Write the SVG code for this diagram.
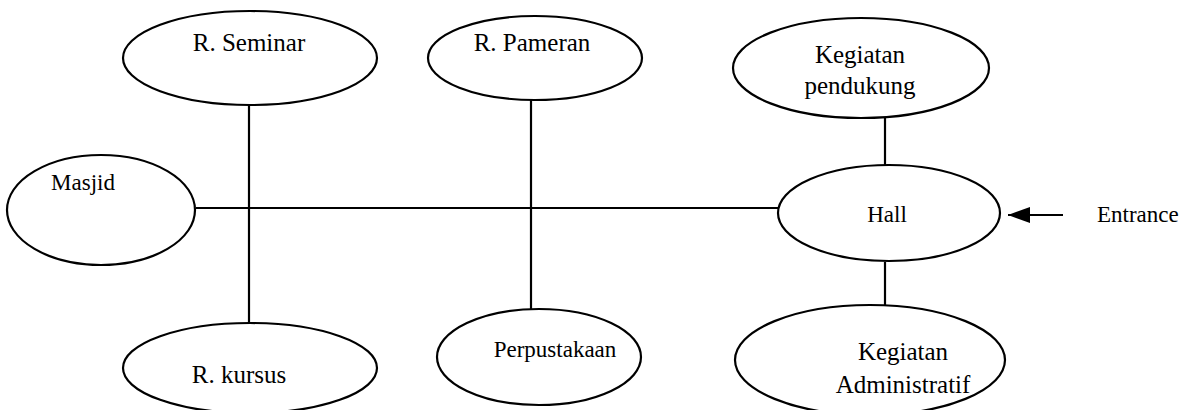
<svg xmlns="http://www.w3.org/2000/svg" width="1196" height="410" viewBox="0 0 1196 410">
<style>
.n ellipse{fill:#fff;stroke:#000;stroke-width:2.2}
text{font-family:"Liberation Serif","Times New Roman",serif;font-size:23px;fill:#000;text-anchor:middle}
.t{font-size:25px}
.b{font-size:25px}
.c line{stroke:#000;stroke-width:2.2}
</style>
<defs>
<marker id="ah" viewBox="0 0 22 16" refX="22" refY="8" markerWidth="22" markerHeight="16" orient="auto" markerUnits="userSpaceOnUse">
<path d="M0,0 L22,8 L0,16 z" fill="#000"/>
</marker>
</defs>
<rect width="1196" height="410" fill="#fff"/>
<g class="c" id="connectors">
<line x1="196" y1="208" x2="780" y2="208"/>
<line x1="249" y1="105" x2="249" y2="325"/>
<line x1="531" y1="100" x2="531" y2="310"/>
<line x1="885" y1="118" x2="885" y2="165"/>
<line x1="885" y1="262" x2="885" y2="305"/>
<line x1="1063" y1="215" x2="1008" y2="215" marker-end="url(#ah)"/>
</g>
<g class="n" id="seminar"><ellipse cx="250" cy="58" rx="127" ry="47"/><text class="t" x="249" y="51">R. Seminar</text></g>
<g class="n" id="pameran"><ellipse cx="535" cy="58" rx="107" ry="42"/><text class="t" x="532" y="51">R. Pameran</text></g>
<g class="n" id="pendukung"><ellipse cx="861" cy="68" rx="128" ry="50"/><text class="t" x="860" y="63">Kegiatan</text><text class="t" x="860" y="94">pendukung</text></g>
<g class="n" id="masjid"><ellipse cx="101" cy="210" rx="94" ry="55"/><text x="83" y="190">Masjid</text></g>
<g class="n" id="hall"><ellipse cx="889" cy="213" rx="111" ry="48"/><text x="887" y="222">Hall</text></g>
<g class="n" id="kursus"><ellipse cx="250" cy="368" rx="127" ry="45"/><text class="b" x="239" y="383">R. kursus</text></g>
<g class="n" id="perpustakaan"><ellipse cx="539" cy="357" rx="102" ry="48"/><text x="555" y="357">Perpustakaan</text></g>
<g class="n" id="administratif"><ellipse cx="870" cy="360" rx="135" ry="55"/><text class="b" x="903" y="360">Kegiatan</text><text class="b" x="903" y="393">Administratif</text></g>
<text x="1097" y="222" style="text-anchor:start">Entrance</text>
</svg>
